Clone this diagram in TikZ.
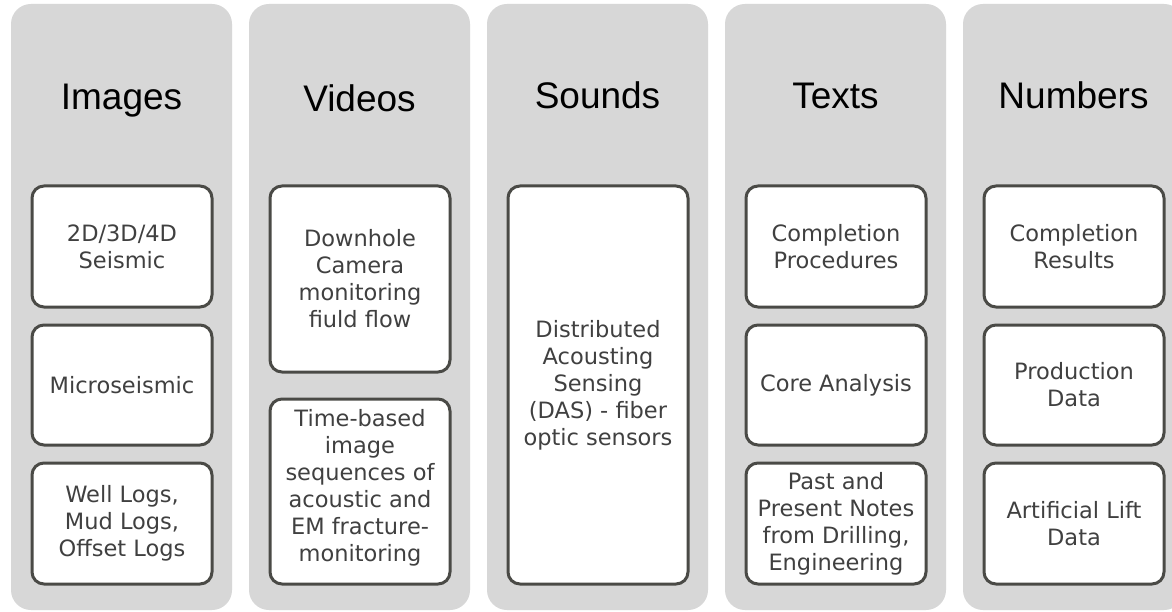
\documentclass[tikz,border=0pt]{standalone}
\usepackage{fontspec}
\setmainfont{DejaVu Sans}
\newfontfamily\headfont{Liberation Sans}
\definecolor{colgray}{HTML}{D7D7D7}
\definecolor{boxline}{HTML}{4A4A46}
\definecolor{boxtext}{HTML}{404040}
\tikzset{
  colbox/.style={fill=colgray, draw=none, rounded corners=20pt},
  itembox/.style={fill=white, draw=boxline, line width=3pt, rounded corners=12pt},
  itemtext/.style={text=boxtext, align=center, font=\fontsize{22.5}{27}\selectfont, inner sep=0pt},
  headtext/.style={text=black, anchor=base, inner sep=0pt, font=\headfont\fontsize{37}{44}\selectfont}
}
\begin{document}
\begin{tikzpicture}[x=1pt,y=-1pt]
\useasboundingbox (0,0) rectangle (1172,612);
\clip (0,0) rectangle (1172,612);
\fill[white] (0,0) rectangle (1172,612);
% columns
\foreach \xx in {11,249,487,725,963}{
  \path[colbox] (\xx,4) rectangle ++(221,606);
}
% headers
\node[headtext] (h1) at (121.5,110) {Images};
\node[headtext] (h2) at (359.5,112) {Videos};
\node[headtext] (h3) at (597.5,109) {Sounds};
\node[headtext] (h4) at (835.5,109) {Texts};
\node[headtext] (h5) at (1073.5,109) {Numbers};
% column 1
\draw[itembox] (32,186) rectangle (212,307);
\node[itemtext] (a1) at (122,246.5) {2D/3D/4D\\Seismic};
\draw[itembox] (32,325) rectangle (212,445);
\node[itemtext] (a2) at (122,385) {Microseismic};
\draw[itembox] (32,463) rectangle (212,584);
\node[itemtext] (a3) at (122,523.5) {Well Logs,\\Mud Logs,\\Offset Logs};
% column 2
\draw[itembox] (270,186) rectangle (450,372);
\node[itemtext] (b1) at (360,279) {Downhole\\Camera\\monitoring\\fiuld flow};
\draw[itembox] (270,399) rectangle (450,584);
\node[itemtext] (b2) at (360,488) {Time-based\\image\\sequences of\\acoustic and\\EM fracture-\\monitoring};
% column 3
\draw[itembox] (508,186) rectangle (688,584);
\node[itemtext] (s1) at (598,385) {Distributed\\Acousting\\Sensing\\(DAS) - fiber\\optic sensors};
% column 4
\draw[itembox] (746,186) rectangle (926,307);
\node[itemtext] (t1) at (836,246.5) {Completion\\Procedures};
\draw[itembox] (746,325) rectangle (926,445);
\node[itemtext] (t2) at (836,385) {Core Analysis};
\draw[itembox] (746,463) rectangle (926,584);
\node[itemtext] (t3) at (836,523.5) {Past and\\Present Notes\\from Drilling,\\Engineering};
% column 5
\draw[itembox] (984,186) rectangle (1164,307);
\node[itemtext] (n1) at (1074,246.5) {Completion\\Results};
\draw[itembox] (984,325) rectangle (1164,445);
\node[itemtext] (n2) at (1074,385) {Production\\Data};
\draw[itembox] (984,463) rectangle (1164,584);
\node[itemtext] (n3) at (1074,523.5) {Artificial Lift\\Data};
\end{tikzpicture}
\end{document}
